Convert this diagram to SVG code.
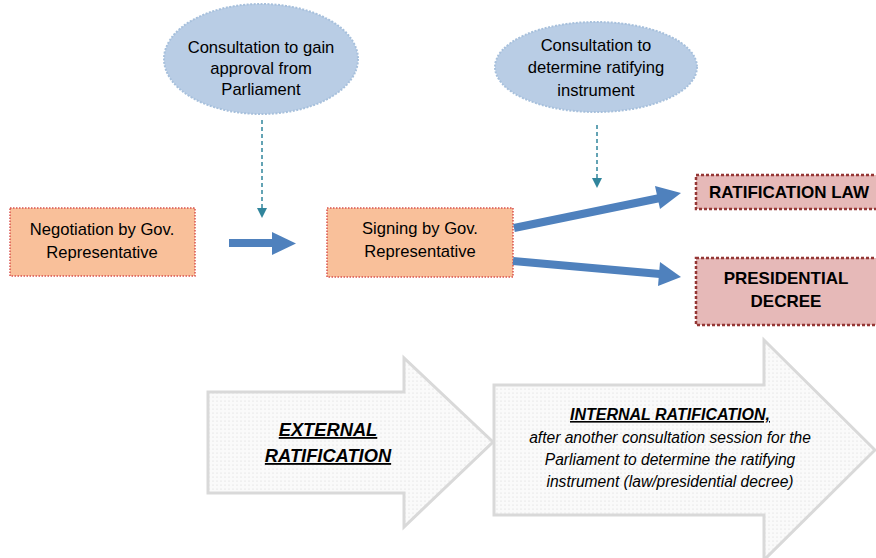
<svg xmlns="http://www.w3.org/2000/svg" width="876" height="558" viewBox="0 0 876 558">
<style>
text{font-family:"Liberation Sans",Arial,sans-serif;fill:#000}
.t{font-size:16.6px;text-anchor:middle}
.b{font-size:17px;font-weight:bold;text-anchor:middle}
.ell{fill:#b9cde5;stroke:#a7c0dc;stroke-width:2;stroke-dasharray:2 1.5}
.org{fill:#f9c09a;stroke:#d9534f;stroke-width:1.5;stroke-dasharray:1.5 1.5}
.pnk{fill:#e6b9b8;stroke:#953735;stroke-width:2.5;stroke-dasharray:3 2}
.big{fill:url(#dots);stroke:#d9d9d9;stroke-width:3}
.dash{stroke:#31859c;stroke-width:1.5;stroke-dasharray:4 3;fill:none}
.blue{stroke:#4f81bd;stroke-width:8;fill:none}
.hd{fill:#4f81bd}
.bi{font-size:18.3px;font-weight:bold;font-style:italic;text-anchor:middle;text-decoration:underline}
.it{font-size:15.6px;font-style:italic;text-anchor:middle}
</style>
<defs>
<pattern id="dots" width="4" height="4" patternUnits="userSpaceOnUse">
<rect width="4" height="4" fill="#fafafa"/>
<circle cx="1" cy="1" r="0.5" fill="#d0d0d0"/>
</pattern>
<marker id="tri" markerWidth="10" markerHeight="10" refX="5" refY="5" orient="auto" markerUnits="userSpaceOnUse">
<path d="M0,0 L10,5 L0,10 Z" fill="#31859c"/>
</marker>
</defs>

<g id="bigarrow-external">
<path class="big" d="M208,392 H404 V358 L493,442 L404,527 V493 H208 Z"/>
<text class="bi" x="328" y="436">EXTERNAL</text>
<text class="bi" x="328" y="462">RATIFICATION</text>
</g>
<g id="bigarrow-internal">
<path class="big" d="M494,385 H764 V340 L875,450 L764,560 V515 H494 Z"/>
<text class="bi" x="670" y="420" style="font-size:16px">INTERNAL RATIFICATION,</text>
<text class="it" x="670" y="443">after another consultation session for the</text>
<text class="it" x="670" y="465">Parliament to determine the ratifying</text>
<text class="it" x="670" y="487">instrument (law/presidential decree)</text>
</g>

<g id="consult-approval">
<ellipse class="ell" cx="261" cy="59" rx="97" ry="55"/>
<text class="t" x="261" y="53">Consultation to gain</text>
<text class="t" x="261" y="74">approval from</text>
<text class="t" x="261" y="95">Parliament</text>
</g>
<g id="consult-instrument">
<ellipse class="ell" cx="596" cy="67" rx="101" ry="45"/>
<text class="t" x="596" y="51">Consultation to</text>
<text class="t" x="596" y="73">determine ratifying</text>
<text class="t" x="596" y="96">instrument</text>
</g>
<g id="negotiation">
<rect class="org" x="10" y="208" width="185" height="68"/>
<text class="t" x="102" y="235">Negotiation by Gov.</text>
<text class="t" x="102" y="258">Representative</text>
</g>
<g id="signing">
<rect class="org" x="327" y="208" width="186" height="69"/>
<text class="t" x="420" y="234">Signing by Gov.</text>
<text class="t" x="420" y="257">Representative</text>
</g>
<g id="ratification-law">
<rect class="pnk" x="696" y="175" width="186" height="34"/>
<text class="b" x="789" y="198">RATIFICATION LAW</text>
</g>
<g id="presidential-decree">
<rect class="pnk" x="696" y="258" width="186" height="67"/>
<text class="b" x="786" y="284">PRESIDENTIAL</text>
<text class="b" x="786" y="307">DECREE</text>
</g>

<g id="connectors">
<line class="dash" x1="262" y1="120" x2="262" y2="213" marker-end="url(#tri)"/>
<line class="dash" x1="597" y1="125" x2="597" y2="183" marker-end="url(#tri)"/>
<line class="blue" x1="229" y1="243" x2="274" y2="243"/>
<path class="hd" d="M272,232 L296,243.5 L272,255 Z"/>
<line class="blue" x1="514" y1="228" x2="660" y2="198"/>
<path class="hd" d="M655,186 L681,193 L660,209 Z"/>
<line class="blue" x1="513" y1="261" x2="660" y2="274"/>
<path class="hd" d="M660,262 L681,277 L658,286 Z"/>
</g>
</svg>
